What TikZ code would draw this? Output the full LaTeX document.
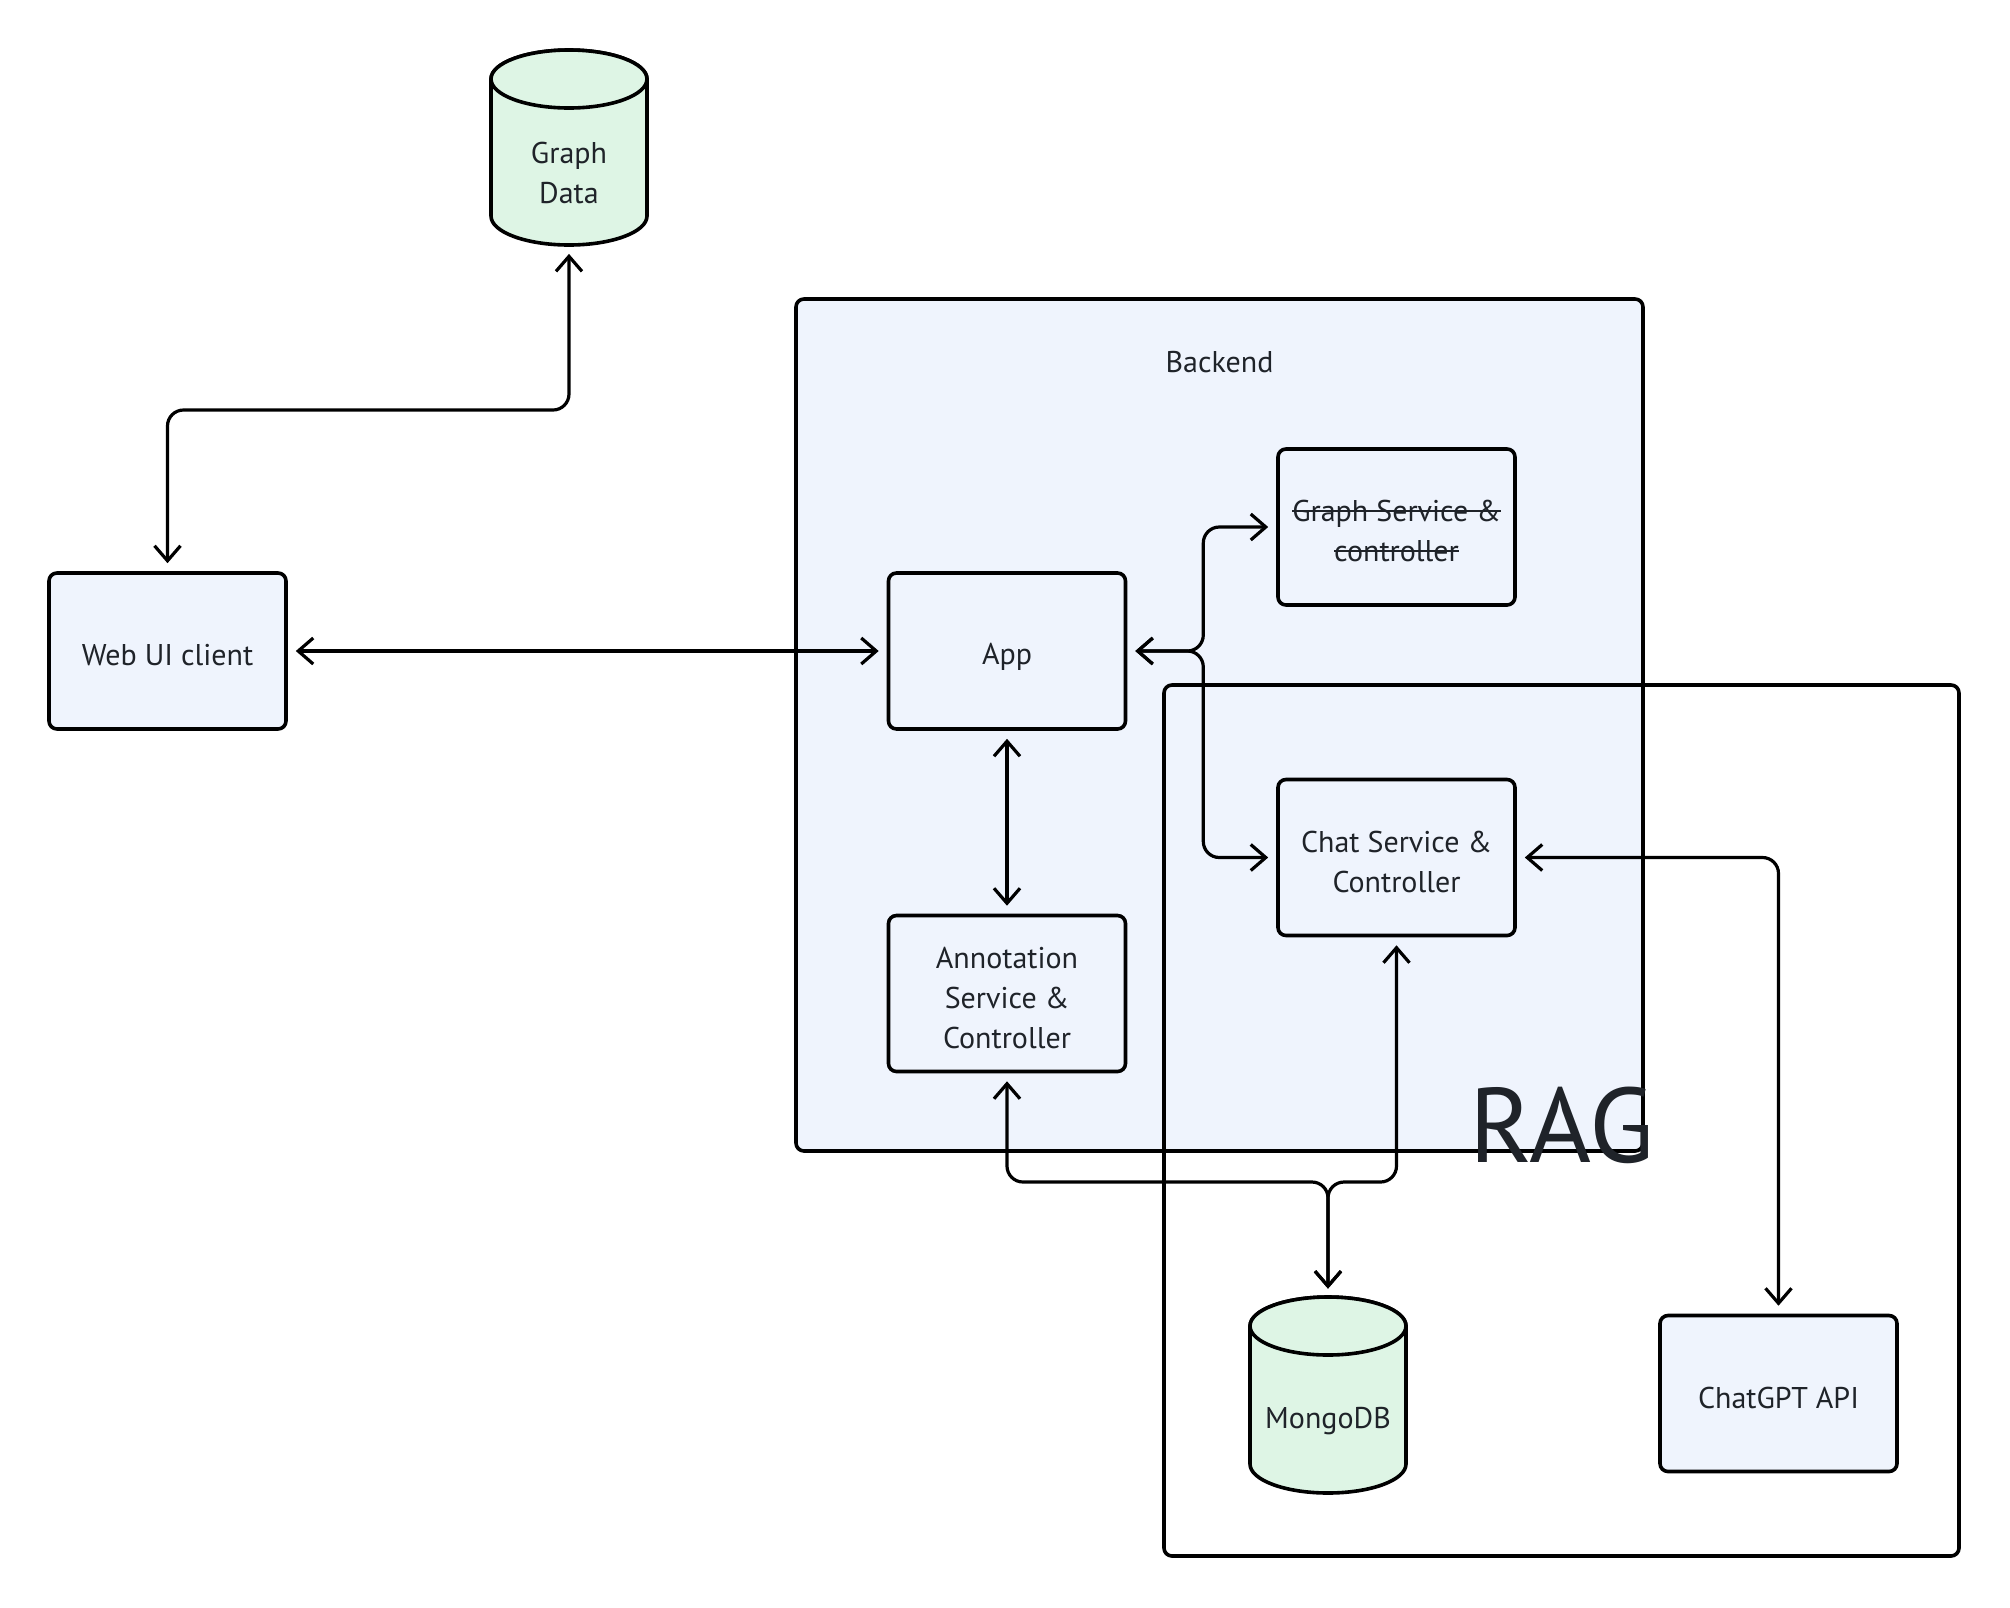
\documentclass[tikz,border=0pt]{standalone}
\usepackage{fontspec}
\setmainfont{PT Sans}
\usetikzlibrary{arrows.meta}
\definecolor{boxfill}{HTML}{EFF4FD}
\definecolor{dbfill}{HTML}{DEF5E5}
\definecolor{txt}{HTML}{1F2329}
\newcommand\mystrike[1]{\setbox0\hbox{#1}\rlap{\rule[0.33em]{\wd0}{0.9pt}}\box0}
\begin{document}
\begin{tikzpicture}[x=0.5pt,y=-0.5pt,
  every node/.style={font=\fontsize{15pt}{20pt}\selectfont, text=txt},
  svcbox/.style={draw=black, fill=boxfill, line width=1.8pt, rounded corners=4pt,
    minimum width=118.5pt, minimum height=78pt, inner sep=0pt},
  boxtext/.style={align=center, yshift=-2pt, inner sep=0pt},
  dbnode/.style={minimum width=78pt, minimum height=98pt, inner sep=0pt},
  dbshape/.style={draw=black, fill=dbfill, line width=1.8pt},
  conn/.style={line width=1.6pt, rounded corners=8pt,
    {Straight Barb[length=7.5pt,width=13pt]}-{Straight Barb[length=7.5pt,width=13pt]},
    shorten <=4pt, shorten >=4pt}
]
\useasboundingbox (0,0) rectangle (2010,1608);
\fill[white] (0,0) rectangle (2010,1608);

% Backend container
\draw[line width=1.8pt, fill=boxfill, rounded corners=4pt] (796,299) rectangle (1643,1151);
\node (backendlbl) at (1219.5,362) {Backend};

% RAG container
\draw[line width=1.8pt, rounded corners=4pt] (1164,685) rectangle (1959,1556);
\node[anchor=base west, font=\fontsize{53pt}{53pt}\selectfont, inner sep=0pt] (raglbl) at (1469,1162) {RAG};

% Graph Data cylinder
\draw[dbshape] (491,79) -- (491,216) arc[start angle=180,end angle=0,x radius=78,y radius=29]
  -- (647,79) arc[start angle=0,end angle=-180,x radius=78,y radius=29] -- cycle;
\draw[dbshape] (569,79) ellipse[x radius=78,y radius=29];
\node[dbnode] (gd) at (569,147.5) {};
\node[align=center] (gdlbl) at (569,173) {Graph\\Data};

% MongoDB cylinder
\draw[dbshape] (1250,1326) -- (1250,1464) arc[start angle=180,end angle=0,x radius=78,y radius=29]
  -- (1406,1326) arc[start angle=0,end angle=-180,x radius=78,y radius=29] -- cycle;
\draw[dbshape] (1328,1326) ellipse[x radius=78,y radius=29];
\node[dbnode] (mongo) at (1328,1395) {};
\node (mongolbl) at (1328,1421) {MongoDB};

% Boxes
\node[svcbox, label={[boxtext]center:Web UI client}] (web) at (167.5,651) {};
\node[svcbox, label={[boxtext, yshift=-1pt]center:App}] (app) at (1007,651) {};
\node[svcbox, label={[boxtext]center:{\mystrike{Graph Service \&}\\\mystrike{controller}}}] (gs) at (1396.5,527) {};
\node[svcbox, label={[boxtext]center:{Chat Service \&\\Controller}}] (chat) at (1396.5,857.5) {};
\node[svcbox, label={[boxtext]center:{Annotation\\Service \&\\Controller}}] (ann) at (1007,993.5) {};
\node[svcbox, label={[boxtext]center:ChatGPT API}] (gpt) at (1778.5,1393.5) {};

% Junction coordinates
\coordinate (k) at (569,410);
\coordinate (j) at (1328,1182);

% Connectors
\draw[conn] (web.north) |- (k) -- (gd.south);
\draw[conn] (web.east) -- (app.west);
\draw[conn] (app.east) -- ++(76,0) |- (gs.west);
\draw[conn] (app.east) -- ++(76,0) |- (chat.west);
\draw[conn] (app.south) -- (ann.north);
\draw[conn] (ann.south) |- (j) -- (mongo.north);
\draw[conn] (chat.south) |- (j) -- (mongo.north);
\draw[conn] (chat.east) -| (gpt.north);
\end{tikzpicture}
\end{document}
